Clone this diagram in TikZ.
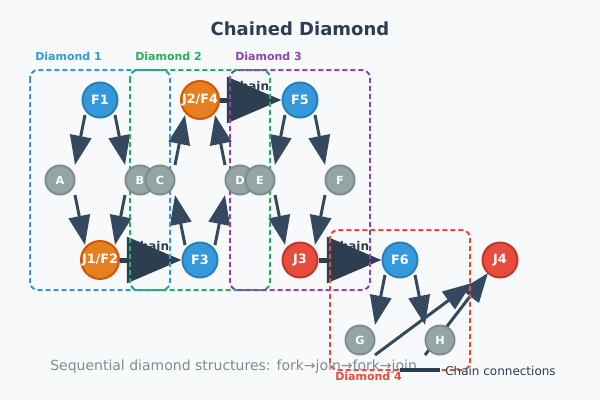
\documentclass[tikz,border=0pt]{standalone}
\usepackage{fontspec}
\setmainfont{DejaVu Sans}
\usetikzlibrary{arrows.meta}
\pgfdeclarelayer{canvas}
\pgfdeclarelayer{back}
\pgfsetlayers{canvas,back,main}
\definecolor{bgcol}{HTML}{F8F9FA}
\definecolor{titlecol}{HTML}{2C3E50}
\definecolor{forkblue}{HTML}{3498DB}
\definecolor{forkblueD}{HTML}{2980B9}
\definecolor{mixorange}{HTML}{E67E22}
\definecolor{mixorangeD}{HTML}{D35400}
\definecolor{joinred}{HTML}{E74C3C}
\definecolor{joinredD}{HTML}{C0392B}
\definecolor{pathgray}{HTML}{95A5A6}
\definecolor{pathgrayD}{HTML}{7F8C8D}
\definecolor{edgecol}{HTML}{34495E}
\definecolor{chaincol}{HTML}{2C3E50}
\definecolor{dgreen}{HTML}{27AE60}
\definecolor{dpurple}{HTML}{8E44AD}
\tikzset{
  mainnode/.style={circle, inner sep=0pt, minimum size=26.25pt, line width=1.5pt, text=white, font=\fontsize{9.6}{11}\selectfont\bfseries},
  forknode/.style={mainnode, fill=forkblue, draw=forkblueD},
  mixnode/.style={mainnode, fill=mixorange, draw=mixorangeD},
  joinnode/.style={mainnode, fill=joinred, draw=joinredD},
  pathnode/.style={circle, inner sep=0pt, minimum size=21.75pt, line width=1.5pt, fill=pathgray, draw=pathgrayD, text=white, font=\fontsize{8.4}{10}\selectfont\bfseries},
  edge/.style={draw=edgecol, line width=2.25pt, -{Triangle[length=22pt,width=16pt]}},
  chain/.style={draw=chaincol, line width=3.75pt, -{Triangle[length=41pt,width=34pt]}},
  groupbox/.style={line width=1.5pt, dash pattern=on 3.75pt off 2.25pt, rounded corners=6pt},
  grouplabel/.style={anchor=west, inner sep=0pt, font=\fontsize{8.25}{10}\selectfont\bfseries},
  chainlabel/.style={inner sep=0pt, text=chaincol, font=\fontsize{9}{11}\selectfont\bfseries}
}
\begin{document}
\begin{tikzpicture}[x=0.75pt,y=0.75pt,yscale=-1,xscale=1]
\begin{pgfonlayer}{canvas}
\fill[bgcol] (0,0) rectangle (600,400);
\end{pgfonlayer}
\useasboundingbox (0,0) rectangle (600,400);

% Title
\node[text=titlecol, font=\fontsize{13.5}{16}\selectfont\bfseries] (title) at (300,29) {Chained Diamond};

% Nodes
\node[forknode] (F1) at (100,100) {F1};
\node[pathnode] (A) at (60,180) {A};
\node[pathnode] (B) at (140,180) {B};
\node[mixnode] (J1F2) at (100,260) {J1/F2};
\node[forknode] (F3) at (200,260) {F3};
\node[pathnode] (C) at (160,180) {C};
\node[pathnode] (D) at (240,180) {D};
\node[mixnode] (J2F4) at (200,100) {J2/F4};
\node[forknode] (F5) at (300,100) {F5};
\node[pathnode] (E) at (260,180) {E};
\node[pathnode] (F) at (340,180) {F};
\node[joinnode] (J3) at (300,260) {J3};
\node[forknode] (F6) at (400,260) {F6};
\node[pathnode] (G) at (360,340) {G};
\node[pathnode] (H) at (440,340) {H};
\node[joinnode] (J4) at (500,260) {J4};

\begin{pgfonlayer}{back}
% Chain labels
\node[chainlabel] (lab1) at (150,246) {Chain};
\node[chainlabel] (lab2) at (250,86) {Chain};
\node[chainlabel] (lab3) at (350,246) {Chain};

% Diamond 1 edges
\draw[edge] ([shift={(-15,15)}]F1.center) -- ([shift={(15,-15)}]A.center);
\draw[edge] ([shift={(15,15)}]F1.center) -- ([shift={(-15,-15)}]B.center);
\draw[edge] ([shift={(15,15)}]A.center) -- ([shift={(-15,-15)}]J1F2.center);
\draw[edge] ([shift={(-15,15)}]B.center) -- ([shift={(15,-15)}]J1F2.center);
% Diamond 2 edges
\draw[edge] ([shift={(-15,-15)}]F3.center) -- ([shift={(15,15)}]C.center);
\draw[edge] ([shift={(15,-15)}]F3.center) -- ([shift={(-15,15)}]D.center);
\draw[edge] ([shift={(15,-15)}]C.center) -- ([shift={(-15,15)}]J2F4.center);
\draw[edge] ([shift={(-15,-15)}]D.center) -- ([shift={(15,15)}]J2F4.center);
% Diamond 3 edges
\draw[edge] ([shift={(-15,15)}]F5.center) -- ([shift={(15,-15)}]E.center);
\draw[edge] ([shift={(15,15)}]F5.center) -- ([shift={(-15,-15)}]F.center);
\draw[edge] ([shift={(15,15)}]E.center) -- ([shift={(-15,-15)}]J3.center);
\draw[edge] ([shift={(-15,15)}]F.center) -- ([shift={(15,-15)}]J3.center);
% Diamond 4 edges
\draw[edge] ([shift={(-15,15)}]F6.center) -- ([shift={(15,-15)}]G.center);
\draw[edge] ([shift={(15,15)}]F6.center) -- ([shift={(-15,-15)}]H.center);
\draw[edge] ([shift={(15,15)}]G.center) -- ([shift={(-28,23)}]J4.center);
\draw[edge] ([shift={(-15,15)}]H.center) -- ([shift={(-12,13)}]J4.center);

% Chain connections
\draw[chain] (J1F2) -- (F3);
\draw[chain] (J2F4) -- (F5);
\draw[chain] (J3) -- (F6);

% Diamond boxes
\draw[groupbox, draw=forkblue] (30,70) rectangle (170,290);
\draw[groupbox, draw=dgreen] (130,70) rectangle (270,290);
\draw[groupbox, draw=dpurple] (230,70) rectangle (370,290);
\draw[groupbox, draw=joinred] (330,230) rectangle (470,370);
\end{pgfonlayer}

% Box labels
\node[grouplabel, text=forkblue] (d1) at (35,56) {Diamond 1};
\node[grouplabel, text=dgreen] (d2) at (135,56) {Diamond 2};
\node[grouplabel, text=dpurple] (d3) at (235,56) {Diamond 3};
\node[grouplabel, text=joinred] (d4) at (335,376) {Diamond 4};

% Footnote and legend
\node[anchor=base west, inner sep=0pt, text=pathgrayD, font=\fontsize{10.5}{12}\selectfont] (note) at (50,370) {Sequential diamond structures: fork→join→fork→join};
\coordinate (legA) at (400,370);
\coordinate (legB) at (440,370);
\draw[draw=chaincol, line width=3pt] (legA) -- (legB);
\node[anchor=west, inner sep=0pt, text=chaincol, font=\fontsize{9}{11}\selectfont] (legtext) at (445,371) {Chain connections};

\end{tikzpicture}
\end{document}
